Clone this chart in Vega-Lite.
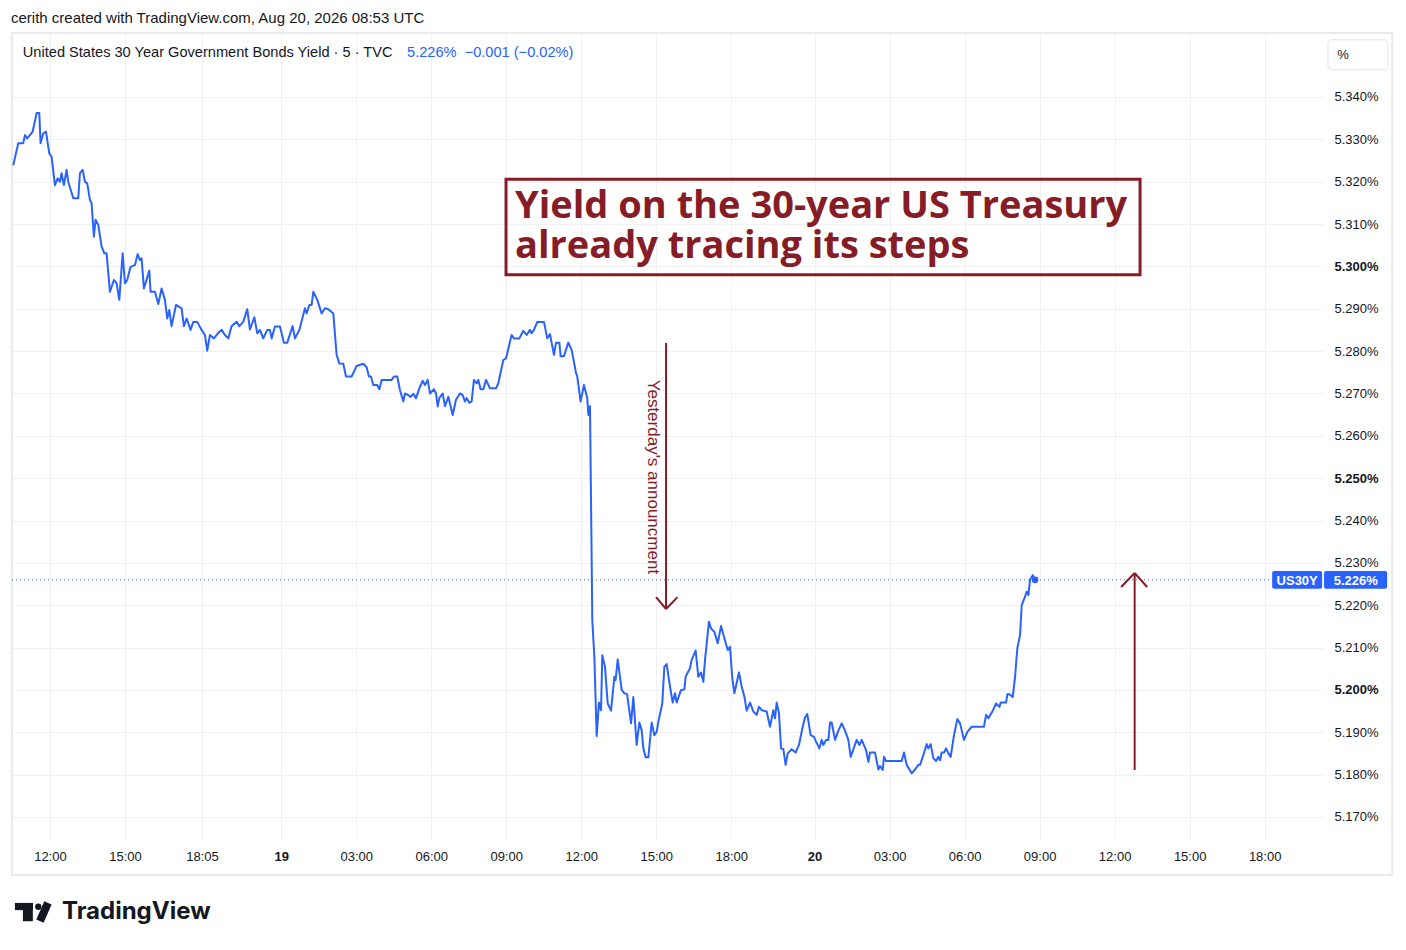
{
  "$schema": "https://vega.github.io/schema/vega-lite/v6.json",
  "width": 1311,
  "height": 807,
  "autosize": {"type": "none"},
  "padding": {"left": 12, "top": 33, "right": 83, "bottom": 110},
  "background": "white",
  "title": {
    "text": "cerith created with TradingView.com, Aug 20, 2026 08:53 UTC",
    "anchor": "start",
    "fontSize": 15,
    "fontWeight": "normal",
    "font": "Liberation Sans",
    "color": "#131722",
    "offset": 6
  },
  "config": {
    "font": "Liberation Sans",
    "view": {"stroke": null},
    "axis": {"domain": false, "ticks": false, "title": null, "labelColor": "#131722", "labelFontSize": 13, "gridColor": "#eff1f4", "gridWidth": 1}
  },
  "datasets": {
    "yield": [
      {"t": -17.6, "y": 5.3239}, {"t": -15.2, "y": 5.3291}, {"t": -12.8, "y": 5.3291}, {"t": -12.0, "y": 5.3310}, {"t": -10.9, "y": 5.3302},
      {"t": -9.6, "y": 5.3310}, {"t": -8.3, "y": 5.3318}, {"t": -6.4, "y": 5.3362}, {"t": -5.1, "y": 5.3362}, {"t": -4.5, "y": 5.3291},
      {"t": -3.2, "y": 5.3314}, {"t": -1.9, "y": 5.3318}, {"t": -0.3, "y": 5.3267}, {"t": 0.8, "y": 5.3259}, {"t": 2.4, "y": 5.3192},
      {"t": 3.7, "y": 5.3208}, {"t": 4.8, "y": 5.3200}, {"t": 5.6, "y": 5.3220}, {"t": 6.7, "y": 5.3192}, {"t": 8.0, "y": 5.3228},
      {"t": 8.8, "y": 5.3200}, {"t": 11.2, "y": 5.3161}, {"t": 13.6, "y": 5.3161}, {"t": 14.4, "y": 5.3220}, {"t": 15.7, "y": 5.3228},
      {"t": 16.8, "y": 5.3200}, {"t": 17.9, "y": 5.3196}, {"t": 19.2, "y": 5.3157}, {"t": 20.0, "y": 5.3149}, {"t": 21.1, "y": 5.3070},
      {"t": 21.9, "y": 5.3110}, {"t": 23.2, "y": 5.3098}, {"t": 24.8, "y": 5.3047}, {"t": 26.1, "y": 5.3031}, {"t": 27.2, "y": 5.3031},
      {"t": 28.8, "y": 5.2940}, {"t": 30.7, "y": 5.2968}, {"t": 32.0, "y": 5.2960}, {"t": 33.3, "y": 5.2921}, {"t": 34.9, "y": 5.3031},
      {"t": 36.0, "y": 5.2960}, {"t": 37.1, "y": 5.2968}, {"t": 38.7, "y": 5.2999}, {"t": 40.8, "y": 5.3003}, {"t": 42.1, "y": 5.3029},
      {"t": 43.2, "y": 5.3015}, {"t": 44.0, "y": 5.3019}, {"t": 45.1, "y": 5.2948}, {"t": 46.1, "y": 5.2964}, {"t": 47.7, "y": 5.2990},
      {"t": 48.3, "y": 5.2940}, {"t": 50.4, "y": 5.2940}, {"t": 52.0, "y": 5.2911}, {"t": 53.6, "y": 5.2948}, {"t": 55.2, "y": 5.2921},
      {"t": 56.3, "y": 5.2877}, {"t": 57.3, "y": 5.2897}, {"t": 58.4, "y": 5.2859}, {"t": 60.5, "y": 5.2909}, {"t": 63.2, "y": 5.2901},
      {"t": 64.3, "y": 5.2859}, {"t": 65.6, "y": 5.2877}, {"t": 67.5, "y": 5.2850}, {"t": 68.8, "y": 5.2869}, {"t": 70.7, "y": 5.2869},
      {"t": 72.8, "y": 5.2850}, {"t": 74.4, "y": 5.2838}, {"t": 75.5, "y": 5.2801}, {"t": 76.8, "y": 5.2838}, {"t": 78.7, "y": 5.2830},
      {"t": 80.8, "y": 5.2843}, {"t": 82.4, "y": 5.2850}, {"t": 84.0, "y": 5.2838}, {"t": 85.6, "y": 5.2830}, {"t": 87.2, "y": 5.2859},
      {"t": 89.6, "y": 5.2869}, {"t": 90.9, "y": 5.2859}, {"t": 92.8, "y": 5.2869}, {"t": 94.7, "y": 5.2899}, {"t": 96.0, "y": 5.2851},
      {"t": 98.1, "y": 5.2880}, {"t": 99.5, "y": 5.2842}, {"t": 100.8, "y": 5.2850}, {"t": 102.4, "y": 5.2830}, {"t": 104.3, "y": 5.2850},
      {"t": 105.6, "y": 5.2850}, {"t": 106.4, "y": 5.2830}, {"t": 108.0, "y": 5.2858}, {"t": 110.4, "y": 5.2858}, {"t": 112.3, "y": 5.2820},
      {"t": 113.9, "y": 5.2820}, {"t": 116.5, "y": 5.2859}, {"t": 117.6, "y": 5.2830}, {"t": 119.7, "y": 5.2850}, {"t": 122.4, "y": 5.2901},
      {"t": 123.2, "y": 5.2889}, {"t": 124.5, "y": 5.2909}, {"t": 125.6, "y": 5.2909}, {"t": 126.4, "y": 5.2940}, {"t": 128.3, "y": 5.2921},
      {"t": 130.4, "y": 5.2889}, {"t": 132.0, "y": 5.2901}, {"t": 133.6, "y": 5.2899}, {"t": 136.0, "y": 5.2889}, {"t": 137.6, "y": 5.2791},
      {"t": 138.9, "y": 5.2771}, {"t": 140.8, "y": 5.2770}, {"t": 142.1, "y": 5.2740}, {"t": 144.8, "y": 5.2740}, {"t": 147.2, "y": 5.2765},
      {"t": 150.4, "y": 5.2770}, {"t": 152.0, "y": 5.2762}, {"t": 153.1, "y": 5.2740}, {"t": 154.1, "y": 5.2740}, {"t": 155.2, "y": 5.2720},
      {"t": 157.1, "y": 5.2720}, {"t": 158.1, "y": 5.2710}, {"t": 159.2, "y": 5.2732}, {"t": 164.0, "y": 5.2732}, {"t": 165.1, "y": 5.2740},
      {"t": 166.7, "y": 5.2740}, {"t": 168.0, "y": 5.2708}, {"t": 169.6, "y": 5.2681}, {"t": 170.4, "y": 5.2700}, {"t": 172.0, "y": 5.2696},
      {"t": 173.1, "y": 5.2692}, {"t": 174.4, "y": 5.2699}, {"t": 175.7, "y": 5.2689}, {"t": 177.3, "y": 5.2712}, {"t": 178.9, "y": 5.2730},
      {"t": 180.0, "y": 5.2720}, {"t": 181.3, "y": 5.2732}, {"t": 182.4, "y": 5.2700}, {"t": 184.3, "y": 5.2710}, {"t": 185.3, "y": 5.2700},
      {"t": 186.1, "y": 5.2669}, {"t": 186.9, "y": 5.2689}, {"t": 188.5, "y": 5.2700}, {"t": 189.6, "y": 5.2670}, {"t": 191.2, "y": 5.2692},
      {"t": 193.3, "y": 5.2649}, {"t": 194.9, "y": 5.2685}, {"t": 196.8, "y": 5.2700}, {"t": 198.1, "y": 5.2696}, {"t": 199.2, "y": 5.2681},
      {"t": 200.0, "y": 5.2689}, {"t": 201.3, "y": 5.2678}, {"t": 202.4, "y": 5.2681}, {"t": 203.5, "y": 5.2732}, {"t": 204.8, "y": 5.2724},
      {"t": 205.6, "y": 5.2732}, {"t": 206.7, "y": 5.2710}, {"t": 208.0, "y": 5.2710}, {"t": 209.3, "y": 5.2732}, {"t": 211.2, "y": 5.2712},
      {"t": 214.1, "y": 5.2712}, {"t": 215.2, "y": 5.2724}, {"t": 217.6, "y": 5.2779}, {"t": 218.9, "y": 5.2783}, {"t": 221.6, "y": 5.2838},
      {"t": 222.7, "y": 5.2830}, {"t": 225.3, "y": 5.2830}, {"t": 227.2, "y": 5.2848}, {"t": 228.8, "y": 5.2838}, {"t": 230.4, "y": 5.2850},
      {"t": 231.2, "y": 5.2842}, {"t": 232.3, "y": 5.2850}, {"t": 233.9, "y": 5.2869}, {"t": 237.1, "y": 5.2869}, {"t": 238.7, "y": 5.2830},
      {"t": 240.0, "y": 5.2840}, {"t": 241.9, "y": 5.2791}, {"t": 242.9, "y": 5.2820}, {"t": 244.5, "y": 5.2820}, {"t": 245.1, "y": 5.2788},
      {"t": 246.7, "y": 5.2788}, {"t": 248.8, "y": 5.2820}, {"t": 250.4, "y": 5.2803}, {"t": 252.5, "y": 5.2748}, {"t": 253.1, "y": 5.2740},
      {"t": 254.7, "y": 5.2681}, {"t": 256.3, "y": 5.2720}, {"t": 257.9, "y": 5.2689}, {"t": 258.4, "y": 5.2649}, {"t": 259.2, "y": 5.2670},
      {"t": 260.0, "y": 5.2307}, {"t": 260.3, "y": 5.2165}, {"t": 261.3, "y": 5.2078}, {"t": 262.4, "y": 5.1891}, {"t": 263.5, "y": 5.1970},
      {"t": 264.5, "y": 5.1952}, {"t": 265.1, "y": 5.2082}, {"t": 266.4, "y": 5.2055}, {"t": 267.7, "y": 5.1968}, {"t": 269.3, "y": 5.1951},
      {"t": 270.9, "y": 5.2031}, {"t": 271.5, "y": 5.2023}, {"t": 272.5, "y": 5.2072}, {"t": 274.4, "y": 5.2000}, {"t": 275.7, "y": 5.1992},
      {"t": 277.0, "y": 5.1990}, {"t": 278.9, "y": 5.1921}, {"t": 280.0, "y": 5.1983}, {"t": 281.6, "y": 5.1870}, {"t": 282.9, "y": 5.1923},
      {"t": 284.0, "y": 5.1905}, {"t": 284.8, "y": 5.1862}, {"t": 285.9, "y": 5.1841}, {"t": 287.2, "y": 5.1841}, {"t": 288.8, "y": 5.1923},
      {"t": 290.1, "y": 5.1893}, {"t": 291.2, "y": 5.1901}, {"t": 292.0, "y": 5.1925}, {"t": 293.9, "y": 5.1968}, {"t": 294.9, "y": 5.2055},
      {"t": 296.0, "y": 5.2061}, {"t": 297.6, "y": 5.2008}, {"t": 298.9, "y": 5.1970}, {"t": 300.0, "y": 5.1992}, {"t": 300.8, "y": 5.1970},
      {"t": 302.9, "y": 5.2000}, {"t": 304.5, "y": 5.2001}, {"t": 305.1, "y": 5.2031}, {"t": 307.2, "y": 5.2051}, {"t": 308.0, "y": 5.2071},
      {"t": 309.9, "y": 5.2093}, {"t": 311.2, "y": 5.2031}, {"t": 312.5, "y": 5.2041}, {"t": 313.6, "y": 5.2019}, {"t": 314.4, "y": 5.2071},
      {"t": 316.3, "y": 5.2161}, {"t": 317.3, "y": 5.2145}, {"t": 318.9, "y": 5.2137}, {"t": 320.5, "y": 5.2110}, {"t": 322.1, "y": 5.2151},
      {"t": 323.7, "y": 5.2122}, {"t": 325.3, "y": 5.2094}, {"t": 326.4, "y": 5.2102}, {"t": 327.5, "y": 5.2027}, {"t": 328.5, "y": 5.1992},
      {"t": 330.7, "y": 5.2041}, {"t": 332.0, "y": 5.2008}, {"t": 333.3, "y": 5.1984}, {"t": 334.4, "y": 5.1951}, {"t": 336.0, "y": 5.1970},
      {"t": 337.6, "y": 5.1949}, {"t": 339.2, "y": 5.1941}, {"t": 340.3, "y": 5.1960}, {"t": 341.6, "y": 5.1952}, {"t": 344.0, "y": 5.1949},
      {"t": 345.6, "y": 5.1913}, {"t": 347.2, "y": 5.1952}, {"t": 348.0, "y": 5.1933}, {"t": 348.8, "y": 5.1970}, {"t": 349.9, "y": 5.1945},
      {"t": 350.9, "y": 5.1862}, {"t": 352.0, "y": 5.1860}, {"t": 353.1, "y": 5.1823}, {"t": 354.1, "y": 5.1850}, {"t": 356.0, "y": 5.1860},
      {"t": 357.9, "y": 5.1852}, {"t": 359.5, "y": 5.1870}, {"t": 361.1, "y": 5.1909}, {"t": 362.4, "y": 5.1935}, {"t": 363.5, "y": 5.1943},
      {"t": 365.1, "y": 5.1893}, {"t": 366.7, "y": 5.1889}, {"t": 367.7, "y": 5.1878}, {"t": 369.3, "y": 5.1862}, {"t": 370.4, "y": 5.1882},
      {"t": 371.2, "y": 5.1870}, {"t": 372.5, "y": 5.1882}, {"t": 373.6, "y": 5.1882}, {"t": 374.4, "y": 5.1923}, {"t": 375.2, "y": 5.1923},
      {"t": 376.8, "y": 5.1882}, {"t": 378.4, "y": 5.1904}, {"t": 380.0, "y": 5.1921}, {"t": 381.6, "y": 5.1904}, {"t": 383.2, "y": 5.1882},
      {"t": 384.3, "y": 5.1842}, {"t": 387.2, "y": 5.1882}, {"t": 388.5, "y": 5.1870}, {"t": 389.6, "y": 5.1882}, {"t": 391.7, "y": 5.1858},
      {"t": 392.8, "y": 5.1830}, {"t": 393.6, "y": 5.1852}, {"t": 396.0, "y": 5.1852}, {"t": 397.6, "y": 5.1812}, {"t": 398.4, "y": 5.1820},
      {"t": 399.7, "y": 5.1811}, {"t": 400.3, "y": 5.1842}, {"t": 401.3, "y": 5.1832}, {"t": 408.8, "y": 5.1832}, {"t": 409.9, "y": 5.1852},
      {"t": 411.2, "y": 5.1823}, {"t": 413.6, "y": 5.1803}, {"t": 415.2, "y": 5.1812}, {"t": 416.8, "y": 5.1823}, {"t": 417.6, "y": 5.1823},
      {"t": 419.2, "y": 5.1846}, {"t": 420.8, "y": 5.1872}, {"t": 421.6, "y": 5.1862}, {"t": 422.7, "y": 5.1872}, {"t": 424.0, "y": 5.1839},
      {"t": 425.3, "y": 5.1832}, {"t": 426.4, "y": 5.1842}, {"t": 427.2, "y": 5.1834}, {"t": 428.0, "y": 5.1852}, {"t": 429.1, "y": 5.1852},
      {"t": 430.1, "y": 5.1862}, {"t": 431.2, "y": 5.1850}, {"t": 432.3, "y": 5.1842}, {"t": 433.9, "y": 5.1893}, {"t": 435.5, "y": 5.1931},
      {"t": 436.8, "y": 5.1921}, {"t": 438.7, "y": 5.1882}, {"t": 440.3, "y": 5.1901}, {"t": 442.4, "y": 5.1913}, {"t": 448.3, "y": 5.1913},
      {"t": 449.3, "y": 5.1941}, {"t": 450.4, "y": 5.1933}, {"t": 452.5, "y": 5.1951}, {"t": 454.1, "y": 5.1968}, {"t": 455.7, "y": 5.1960},
      {"t": 456.3, "y": 5.1970}, {"t": 458.9, "y": 5.1970}, {"t": 459.5, "y": 5.1990}, {"t": 460.5, "y": 5.1990}, {"t": 462.1, "y": 5.1983},
      {"t": 463.2, "y": 5.2031}, {"t": 464.3, "y": 5.2098}, {"t": 465.6, "y": 5.2130}, {"t": 466.4, "y": 5.2200}, {"t": 468.0, "y": 5.2220},
      {"t": 468.8, "y": 5.2232}, {"t": 469.6, "y": 5.2224}, {"t": 470.4, "y": 5.2260}, {"t": 471.7, "y": 5.2271}, {"t": 472.8, "y": 5.2260}
    ],
    "last": [{"t": 472.8, "y": 5.226}],
    "priceline": [{"t": -18.2, "t2": 611, "y": 5.226}],
    "frame": [{"t": -18.2, "t2": 644.2, "y": 5.35511, "y2": 5.15629}],
    "box": [{"t": 218.9, "t2": 523.2, "y": 5.3206, "y2": 5.2980}],
    "boxtext": [
      {"t": 223.2, "y": 5.3140, "label": "Yield on the 30-year US Treasury\nalready tracing its steps"}
    ],
    "arrows": [
      {"t": 295.7, "y": 5.2819, "t2": 295.7, "y2": 5.2191},
      {"t": 290.9, "y": 5.2219, "t2": 295.7, "y2": 5.2191},
      {"t": 301.2, "y": 5.2219, "t2": 295.7, "y2": 5.2191},
      {"t": 520.6, "y": 5.1811, "t2": 520.6, "y2": 5.2276},
      {"t": 514.1, "y": 5.2243, "t2": 520.6, "y2": 5.2276},
      {"t": 526.6, "y": 5.2243, "t2": 520.6, "y2": 5.2276}
    ],
    "note": [{"t": 289.4, "y": 5.2503, "label": "Yesterday's announcment"}],
    "legendname": [{"t": -13.0, "y": 5.3504, "label": "United States 30 Year Government Bonds Yield · 5 · TVC"}],
    "legendvalue": [{"t": 171.4, "y": 5.3504, "label": "5.226%\u00a0\u00a0−0.001 (−0.02%)"}],
    "tags": [
      {"t": 586.6, "t2": 610.6, "y": 5.2281, "y2": 5.2239},
      {"t": 611.5, "t2": 641.8, "y": 5.2281, "y2": 5.2239}
    ],
    "tagtext": [
      {"t": 598.6, "y": 5.2258, "label": "US30Y"},
      {"t": 626.7, "y": 5.2258, "label": "5.226%"}
    ],
    "pctbox": [{"t": 613.4, "t2": 642.2, "y": 5.3535, "y2": 5.3464}],
    "pcttext": [{"t": 620.6, "y": 5.3499, "label": "%"}],
    "logoblocks": [
      {"t": -16.8, "t2": -8.2, "y": 5.1497, "y2": 5.1480},
      {"t": -12.96, "t2": -8.2, "y": 5.1497, "y2": 5.1454}
    ],
    "logodot": [{"t": -5.6, "y": 5.1488}],
    "logoslash": [{"t": -0.96, "y": 5.1497, "t2": -4.8, "y2": 5.1454}],
    "logotext": [{"t": 5.8, "y": 5.1476, "label": "TradingView"}]
  },
  "encoding": {
    "x": {
      "field": "t",
      "type": "quantitative",
      "scale": {"domain": [-18.2, 611], "nice": false, "zero": false},
      "axis": {
        "orient": "bottom",
        "values": [0, 36, 73, 111, 147, 183, 219, 255, 291, 327, 367, 403, 439, 475, 511, 547, 583],
        "labelExpr": "datum.value==0?'12:00':datum.value==36?'15:00':datum.value==73?'18:05':datum.value==111?'19':datum.value==147?'03:00':datum.value==183?'06:00':datum.value==219?'09:00':datum.value==255?'12:00':datum.value==291?'15:00':datum.value==327?'18:00':datum.value==367?'20':datum.value==403?'03:00':datum.value==439?'06:00':datum.value==475?'09:00':datum.value==511?'12:00':datum.value==547?'15:00':'18:00'",
        "labelFontWeight": {"condition": {"test": "datum.value==111 || datum.value==367", "value": "bold"}, "value": "normal"},
        "labelPadding": 10,
        "labelFlush": false,
        "labelOverlap": false
      }
    },
    "y": {
      "field": "y",
      "type": "quantitative",
      "scale": {"domain": [5.16456, 5.35511], "nice": false, "zero": false},
      "axis": {
        "orient": "right",
        "values": [5.17, 5.18, 5.19, 5.2, 5.21, 5.22, 5.23, 5.24, 5.25, 5.26, 5.27, 5.28, 5.29, 5.3, 5.31, 5.32, 5.33, 5.34],
        "labelExpr": "format(datum.value, '.3f') + '%'",
        "labelFontWeight": {"condition": {"test": "round(datum.value*1000) % 50 == 0", "value": "bold"}, "value": "normal"},
        "labelPadding": 11,
        "labelOverlap": false
      }
    }
  },
  "layer": [
    {
      "data": {"name": "frame"},
      "mark": {"type": "rect", "fillOpacity": 0, "stroke": "#e8eaee", "strokeWidth": 2},
      "encoding": {"x2": {"field": "t2"}, "y2": {"field": "y2"}}
    },
    {
      "data": {"name": "priceline"},
      "mark": {"type": "rule", "color": "#2962ff", "strokeWidth": 1, "strokeDash": [1, 3]},
      "encoding": {"x2": {"field": "t2"}}
    },
    {
      "data": {"name": "box"},
      "mark": {"type": "rect", "fillOpacity": 0, "stroke": "#861c26", "strokeWidth": 3},
      "encoding": {"x2": {"field": "t2"}, "y2": {"field": "y2"}}
    },
    {
      "data": {"name": "boxtext"},
      "mark": {"type": "text", "align": "left", "baseline": "middle", "lineBreak": "\n", "lineHeight": 40, "font": "Open Sans", "fontWeight": "bold", "fontSize": 38, "color": "#861c26"},
      "encoding": {"text": {"field": "label"}}
    },
    {
      "data": {"name": "arrows"},
      "mark": {"type": "rule", "color": "#861c26", "strokeWidth": 2},
      "encoding": {"x2": {"field": "t2"}, "y2": {"field": "y2"}}
    },
    {
      "data": {"name": "note"},
      "mark": {"type": "text", "angle": 90, "align": "center", "baseline": "middle", "fontSize": 17, "color": "#861c26"},
      "encoding": {"text": {"field": "label"}}
    },
    {
      "data": {"name": "yield"},
      "mark": {"type": "line", "color": "#2962ff", "strokeWidth": 2, "strokeJoin": "round"}
    },
    {
      "data": {"name": "last"},
      "mark": {"type": "point", "filled": true, "color": "#2962ff", "size": 45, "opacity": 1}
    },
    {
      "data": {"name": "legendname"},
      "mark": {"type": "text", "align": "left", "baseline": "middle", "fontSize": 14.6, "color": "#131722"},
      "encoding": {"text": {"field": "label"}}
    },
    {
      "data": {"name": "legendvalue"},
      "mark": {"type": "text", "align": "left", "baseline": "middle", "fontSize": 14.6, "color": "#2962ff"},
      "encoding": {"text": {"field": "label"}}
    },
    {
      "data": {"name": "tags"},
      "mark": {"type": "rect", "color": "#2962ff", "cornerRadius": 2},
      "encoding": {"x2": {"field": "t2"}, "y2": {"field": "y2"}}
    },
    {
      "data": {"name": "tagtext"},
      "mark": {"type": "text", "align": "center", "baseline": "middle", "fontSize": 13, "fontWeight": "bold", "color": "white"},
      "encoding": {"text": {"field": "label"}}
    },
    {
      "data": {"name": "pctbox"},
      "mark": {"type": "rect", "fill": "white", "stroke": "#e0e3eb", "strokeWidth": 1, "cornerRadius": 4},
      "encoding": {"x2": {"field": "t2"}, "y2": {"field": "y2"}}
    },
    {
      "data": {"name": "pcttext"},
      "mark": {"type": "text", "align": "center", "baseline": "middle", "fontSize": 13, "color": "#131722"},
      "encoding": {"text": {"field": "label"}}
    },
    {
      "data": {"name": "logoblocks"},
      "mark": {"type": "rect", "color": "#131722"},
      "encoding": {"x2": {"field": "t2"}, "y2": {"field": "y2"}}
    },
    {
      "data": {"name": "logodot"},
      "mark": {"type": "point", "filled": true, "color": "#131722", "size": 40, "opacity": 1}
    },
    {
      "data": {"name": "logoslash"},
      "mark": {"type": "rule", "color": "#131722", "strokeWidth": 8},
      "encoding": {"x2": {"field": "t2"}, "y2": {"field": "y2"}}
    },
    {
      "data": {"name": "logotext"},
      "mark": {"type": "text", "align": "left", "baseline": "middle", "font": "Inter", "fontWeight": "bold", "fontSize": 24, "color": "#131722"},
      "encoding": {"text": {"field": "label"}}
    }
  ]
}
